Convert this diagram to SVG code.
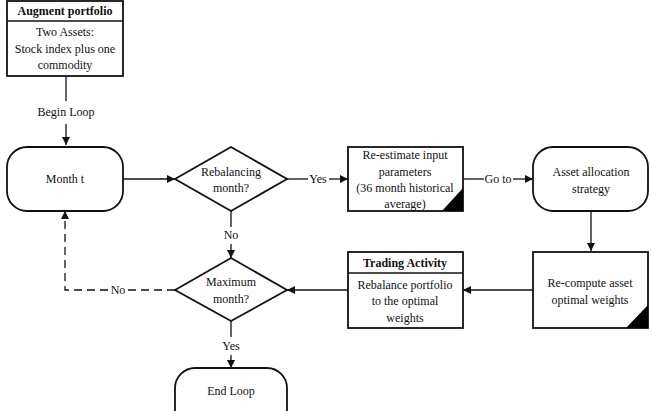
<svg xmlns="http://www.w3.org/2000/svg" width="652" height="411" viewBox="0 0 652 411">
<style>
text{font-family:'Liberation Serif','DejaVu Serif','Noto Serif',Times,serif;font-size:12px;fill:#111;text-anchor:middle}
.b{font-weight:bold}
.shape{fill:#fff;stroke:#111;stroke-width:1.8}
.ln{fill:none;stroke:#111;stroke-width:1.3}
.dash{stroke-dasharray:8,5}
.tri{fill:#000}
</style>
<defs>
<marker id="ah" viewBox="0 0 10 10" refX="10" refY="5" markerWidth="8" markerHeight="8" markerUnits="userSpaceOnUse" orient="auto">
<path d="M0,0 L10,5 L0,10 Z" fill="#111"/>
</marker>
</defs>
<g font-family="Liberation Serif, serif">
<g id="connectors">
<path class="ln" d="M66,76 V101"/>
<path class="ln" d="M66,124 V145" marker-end="url(#ah)"/>
<text x="66" y="116">Begin Loop</text>
<path class="ln" d="M123,179 H175" marker-end="url(#ah)"/>
<path class="ln" d="M287,179 H308"/>
<path class="ln" d="M329,179 H348" marker-end="url(#ah)"/>
<text x="318" y="183">Yes</text>
<path class="ln" d="M463,179 H484"/>
<path class="ln" d="M513,179 H533" marker-end="url(#ah)"/>
<text x="498" y="183">Go to</text>
<path class="ln" d="M591,211 V251" marker-end="url(#ah)"/>
<path class="ln" d="M533,290 H463" marker-end="url(#ah)"/>
<path class="ln" d="M348,290 H287" marker-end="url(#ah)"/>
<path class="ln" d="M231,211 V227"/>
<path class="ln" d="M231,244 V258" marker-end="url(#ah)"/>
<text x="231" y="239">No</text>
<path class="ln" d="M231,321 V337"/>
<path class="ln" d="M231,355 V368" marker-end="url(#ah)"/>
<text x="231" y="350">Yes</text>
<path class="ln dash" d="M175,290 H128"/>
<path class="ln dash" d="M108,290 H65 V211" marker-end="url(#ah)"/>
<text x="118" y="294">No</text>
</g>
<g id="augment">
<rect class="shape" x="7" y="1" width="116" height="75"/>
<line class="ln" x1="7" y1="21" x2="123" y2="21" stroke-width="1.6"/>
<text class="b" x="65" y="15">Augment portfolio</text>
<text x="65" y="36">Two Assets:</text>
<text x="65" y="53">Stock index plus one</text>
<text x="65" y="69">commodity</text>
</g>
<g id="month">
<rect class="shape" x="7" y="147" width="116" height="64" rx="20"/>
<text x="65" y="183">Month t</text>
</g>
<g id="rebal">
<path class="shape" d="M175,179 L231,147 L287,179 L231,211 Z"/>
<text x="231" y="176">Rebalancing</text>
<text x="231" y="192">month?</text>
</g>
<g id="reestimate">
<rect class="shape" x="348" y="147" width="115" height="64"/>
<path class="tri" d="M442,211 L463,211 L463,188 Z"/>
<text x="405" y="159">Re-estimate input</text>
<text x="405" y="176">parameters</text>
<text x="405" y="192">(36 month historical</text>
<text x="405" y="208">average)</text>
</g>
<g id="asset">
<rect class="shape" x="533" y="147" width="115" height="64" rx="20"/>
<text x="591" y="176">Asset allocation</text>
<text x="591" y="193">strategy</text>
</g>
<g id="recompute">
<rect class="shape" x="533" y="252" width="115" height="76"/>
<path class="tri" d="M626,328 L648,328 L648,305 Z"/>
<text x="590" y="287">Re-compute asset</text>
<text x="590" y="304">optimal weights</text>
</g>
<g id="trading">
<rect class="shape" x="348" y="252" width="115" height="76"/>
<line class="ln" x1="348" y1="273" x2="463" y2="273" stroke-width="1.6"/>
<text class="b" x="405" y="267">Trading Activity</text>
<text x="405" y="289">Rebalance portfolio</text>
<text x="405" y="305">to the optimal</text>
<text x="405" y="322">weights</text>
</g>
<g id="maximum">
<path class="shape" d="M175,290 L231,258 L287,290 L231,321 Z"/>
<text x="231" y="286">Maximum</text>
<text x="231" y="303">month?</text>
</g>
<g id="endloop">
<rect class="shape" x="175" y="368" width="112" height="64" rx="20"/>
<text x="231" y="395">End Loop</text>
</g>
</g>
</svg>
